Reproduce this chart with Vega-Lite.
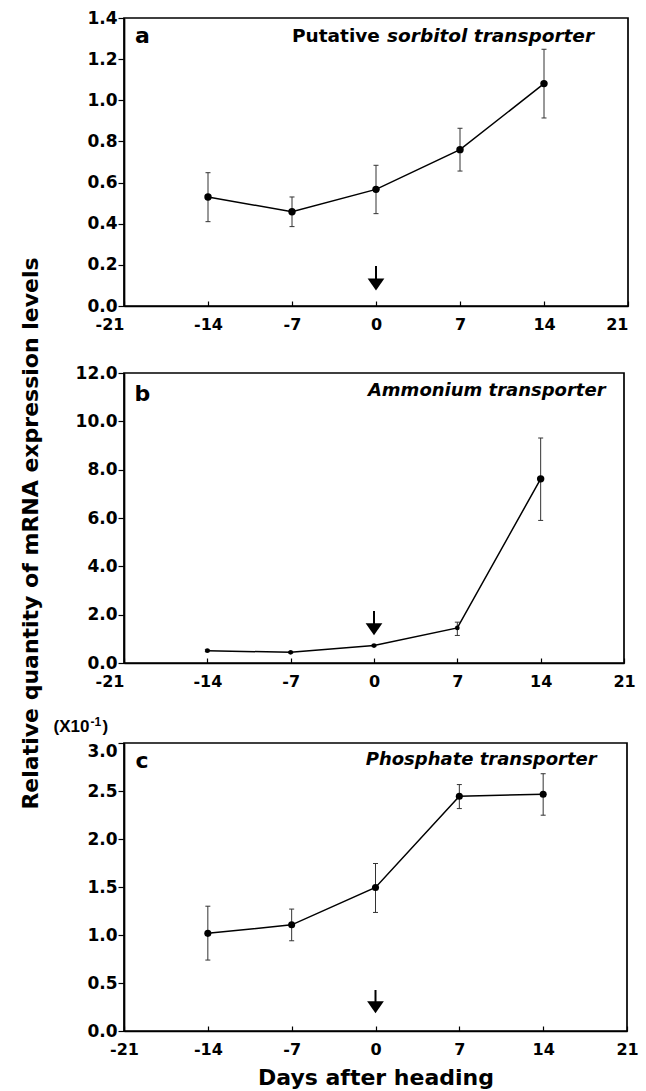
{
  "$schema": "https://vega.github.io/schema/vega-lite/v6.json",
  "padding": {"left": 18, "top": 8, "right": 5, "bottom": 5},
  "background": "white",
  "bounds": "flush",
  "spacing": 67,
  "datasets": {
    "a": [
      {"day": -14, "mean": 0.53, "lo": 0.41, "hi": 0.648},
      {"day": -7, "mean": 0.458, "lo": 0.386, "hi": 0.53},
      {"day": 0, "mean": 0.567, "lo": 0.449, "hi": 0.684},
      {"day": 7, "mean": 0.76, "lo": 0.656, "hi": 0.864},
      {"day": 14, "mean": 1.081, "lo": 0.914, "hi": 1.248}
    ],
    "b": [
      {"day": -14, "mean": 0.51, "lo": 0.47, "hi": 0.55},
      {"day": -7, "mean": 0.44, "lo": 0.41, "hi": 0.47},
      {"day": 0, "mean": 0.72, "lo": 0.68, "hi": 0.76},
      {"day": 7, "mean": 1.45, "lo": 1.14, "hi": 1.69},
      {"day": 14, "mean": 7.62, "lo": 5.9, "hi": 9.31}
    ],
    "c": [
      {"day": -14, "mean": 1.017, "lo": 0.739, "hi": 1.3},
      {"day": -7, "mean": 1.106, "lo": 0.94, "hi": 1.27},
      {"day": 0, "mean": 1.495, "lo": 1.235, "hi": 1.745},
      {"day": 7, "mean": 2.445, "lo": 2.317, "hi": 2.567},
      {"day": 14, "mean": 2.466, "lo": 2.248, "hi": 2.68}
    ],
    "arrA": [{"day": 0, "top": 0.194, "head": 0.105}],
    "arrB": [{"day": 0, "top": 2.15, "head": 1.4}],
    "arrC": [{"day": 0, "top": 0.427, "head": 0.248}]
  },
  "vconcat": [
    {
      "width": 504,
      "height": 288,
      "encoding": {
        "x": {
          "field": "day", "type": "quantitative",
          "scale": {"domain": [-21, 21], "nice": false, "zero": false},
          "axis": {
            "values": [-21, -14, -7, 0, 7, 14, 21], "title": null, "labelExpr": "'' + datum.value",
            "labelAlign": {"condition": {"test": "abs(datum.value) == 21", "value": "right"}, "value": "center"}
          }
        }
      },
      "layer": [
        {"data": {"name": "a"}, "mark": {"type": "rule", "stroke": "#333", "strokeWidth": 1},
         "encoding": {"y": {"field": "lo", "type": "quantitative", "scale": {"domain": [0, 1.4], "nice": false, "zero": false},
           "axis": {"values": [0, 0.2, 0.4, 0.6, 0.8, 1.0, 1.2, 1.4], "format": ".1f", "title": null}}, "y2": {"field": "hi"}}},
        {"data": {"name": "a"}, "mark": {"type": "tick", "orient": "horizontal", "size": 5, "thickness": 1, "color": "#333", "opacity": 1},
         "encoding": {"y": {"field": "lo", "type": "quantitative", "title": null}}},
        {"data": {"name": "a"}, "mark": {"type": "tick", "orient": "horizontal", "size": 5, "thickness": 1, "color": "#333", "opacity": 1},
         "encoding": {"y": {"field": "hi", "type": "quantitative", "title": null}}},
        {"data": {"name": "a"}, "mark": {"type": "line", "color": "black", "strokeWidth": 1.5},
         "encoding": {"y": {"field": "mean", "type": "quantitative", "title": null}}},
        {"data": {"name": "a"}, "mark": {"type": "point", "filled": true, "color": "black", "size": 55, "opacity": 1},
         "encoding": {"y": {"field": "mean", "type": "quantitative", "title": null}}},
        {"data": {"name": "arrA"}, "mark": {"type": "rule", "color": "black", "strokeWidth": 2},
         "encoding": {"y": {"field": "top", "type": "quantitative", "title": null}, "y2": {"field": "head"}}},
        {"data": {"name": "arrA"}, "mark": {"type": "point", "shape": "M-1,-0.72L1,-0.72L0,0.72Z", "filled": true, "color": "black", "size": 280, "opacity": 1},
         "encoding": {"y": {"field": "head", "type": "quantitative", "title": null}}},
        {"data": {"values": [{"day": -20.08, "v": 1.279, "t": "a"}]},
         "mark": {"type": "text", "align": "left", "baseline": "alphabetic", "font": "DejaVu Sans", "fontWeight": "bold", "fontSize": 22, "color": "black"},
         "encoding": {"y": {"field": "v", "type": "quantitative", "title": null}, "text": {"field": "t"}}},
        {"data": {"values": [{"day": -7.0, "v": 1.285, "t": "Putative"}]},
         "mark": {"type": "text", "align": "left", "baseline": "alphabetic", "font": "DejaVu Sans", "fontWeight": "bold", "fontSize": 18.5, "color": "black"},
         "encoding": {"y": {"field": "v", "type": "quantitative", "title": null}, "text": {"field": "t"}}},
        {"data": {"values": [{"day": 0.92, "v": 1.285, "t": "sorbitol transporter"}]},
         "mark": {"type": "text", "align": "left", "baseline": "alphabetic", "font": "DejaVu Sans", "fontWeight": "bold", "fontStyle": "italic", "fontSize": 18.5, "color": "black"},
         "encoding": {"y": {"field": "v", "type": "quantitative", "title": null}, "text": {"field": "t"}}}
      ]
    },
    {
      "bounds": "flush",
      "spacing": 80,
      "vconcat": [
        {
          "width": 500,
          "height": 290,
          "encoding": {
            "x": {
              "field": "day", "type": "quantitative",
              "scale": {"domain": [-21, 21], "nice": false, "zero": false},
              "axis": {
                "values": [-21, -14, -7, 0, 7, 14, 21], "title": null, "labelExpr": "'' + datum.value",
                "labelAlign": {"condition": {"test": "datum.value == -21", "value": "right"}, "value": "center"}
              }
            }
          },
          "layer": [
            {"data": {"name": "b"}, "mark": {"type": "rule", "stroke": "#333", "strokeWidth": 1},
             "encoding": {"y": {"field": "lo", "type": "quantitative", "scale": {"domain": [0, 12], "nice": false, "zero": false},
               "title": "Relative quantity of mRNA expression levels",
               "axis": {"values": [0, 2, 4, 6, 8, 10, 12], "format": ".1f",
                 "title": "Relative quantity of mRNA expression levels", "titleFontSize": 22, "titlePadding": 33, "titleY": 160}}, "y2": {"field": "hi"}}},
            {"data": {"name": "b"}, "mark": {"type": "tick", "orient": "horizontal", "size": 5, "thickness": 1, "color": "#333", "opacity": 1},
             "encoding": {"y": {"field": "lo", "type": "quantitative"}}},
            {"data": {"name": "b"}, "mark": {"type": "tick", "orient": "horizontal", "size": 5, "thickness": 1, "color": "#333", "opacity": 1},
             "encoding": {"y": {"field": "hi", "type": "quantitative"}}},
            {"data": {"name": "b"}, "mark": {"type": "line", "color": "black", "strokeWidth": 1.5},
             "encoding": {"y": {"field": "mean", "type": "quantitative"}}},
            {"data": {"name": "b"}, "mark": {"type": "point", "filled": true, "color": "black", "opacity": 1},
             "encoding": {"y": {"field": "mean", "type": "quantitative"},
               "size": {"condition": {"test": "datum.day == 14", "value": 55}, "value": 22}}},
            {"data": {"name": "arrB"}, "mark": {"type": "rule", "color": "black", "strokeWidth": 2},
             "encoding": {"y": {"field": "top", "type": "quantitative"}, "y2": {"field": "head"}}},
            {"data": {"name": "arrB"}, "mark": {"type": "point", "shape": "M-1,-0.72L1,-0.72L0,0.72Z", "filled": true, "color": "black", "size": 280, "opacity": 1},
             "encoding": {"y": {"field": "head", "type": "quantitative"}}},
            {"data": {"values": [{"day": -20.12, "v": 10.86, "t": "b"}]},
             "mark": {"type": "text", "align": "left", "baseline": "alphabetic", "font": "DejaVu Sans", "fontWeight": "bold", "fontSize": 22, "color": "black"},
             "encoding": {"y": {"field": "v", "type": "quantitative"}, "text": {"field": "t"}}},
            {"data": {"values": [{"day": 19.45, "v": 11.06, "t": "Ammonium transporter"}]},
             "mark": {"type": "text", "align": "right", "baseline": "alphabetic", "font": "DejaVu Sans", "fontWeight": "bold", "fontStyle": "italic", "fontSize": 18, "color": "black"},
             "encoding": {"y": {"field": "v", "type": "quantitative"}, "text": {"field": "t"}}}
          ]
        },
        {
          "width": 503,
          "height": 288,
          "encoding": {
            "x": {
              "field": "day", "type": "quantitative",
              "scale": {"domain": [-21, 21], "nice": false, "zero": false},
              "axis": {
                "values": [-21, -14, -7, 0, 7, 14, 21], "labelExpr": "'' + datum.value",
                "title": "Days after heading", "titleFontSize": 22, "titlePadding": 10
              }
            }
          },
          "layer": [
            {"data": {"name": "c"}, "mark": {"type": "rule", "stroke": "#333", "strokeWidth": 1},
             "encoding": {"y": {"field": "lo", "type": "quantitative", "scale": {"domain": [0, 3], "nice": false, "zero": false},
               "axis": {"values": [0, 0.5, 1.0, 1.5, 2.0, 2.5, 3.0], "format": ".1f", "title": null,
                 "labelBaseline": {"condition": {"test": "datum.value == 3", "value": "top"}, "value": "middle"}}}, "y2": {"field": "hi"}}},
            {"data": {"name": "c"}, "mark": {"type": "tick", "orient": "horizontal", "size": 5, "thickness": 1, "color": "#333", "opacity": 1},
             "encoding": {"y": {"field": "lo", "type": "quantitative", "title": null}}},
            {"data": {"name": "c"}, "mark": {"type": "tick", "orient": "horizontal", "size": 5, "thickness": 1, "color": "#333", "opacity": 1},
             "encoding": {"y": {"field": "hi", "type": "quantitative", "title": null}}},
            {"data": {"name": "c"}, "mark": {"type": "line", "color": "black", "strokeWidth": 1.5},
             "encoding": {"y": {"field": "mean", "type": "quantitative", "title": null}}},
            {"data": {"name": "c"}, "mark": {"type": "point", "filled": true, "color": "black", "size": 50, "opacity": 1},
             "encoding": {"y": {"field": "mean", "type": "quantitative", "title": null}}},
            {"data": {"name": "arrC"}, "mark": {"type": "rule", "color": "black", "strokeWidth": 2},
             "encoding": {"y": {"field": "top", "type": "quantitative", "title": null}, "y2": {"field": "head"}}},
            {"data": {"name": "arrC"}, "mark": {"type": "point", "shape": "M-1,-0.72L1,-0.72L0,0.72Z", "filled": true, "color": "black", "size": 280, "opacity": 1},
             "encoding": {"y": {"field": "head", "type": "quantitative", "title": null}}},
            {"data": {"values": [{"day": -20.04, "v": 2.744, "t": "c"}]},
             "mark": {"type": "text", "align": "left", "baseline": "alphabetic", "font": "DejaVu Sans", "fontWeight": "bold", "fontSize": 22, "color": "black"},
             "encoding": {"y": {"field": "v", "type": "quantitative", "title": null}, "text": {"field": "t"}}},
            {"data": {"values": [{"day": 18.47, "v": 2.768, "t": "Phosphate transporter"}]},
             "mark": {"type": "text", "align": "right", "baseline": "alphabetic", "font": "DejaVu Sans", "fontWeight": "bold", "fontStyle": "italic", "fontSize": 18, "color": "black"},
             "encoding": {"y": {"field": "v", "type": "quantitative", "title": null}, "text": {"field": "t"}}},
            {"data": {"values": [{"day": -26.88, "v": 3.115, "t": "(X10"}]},
             "mark": {"type": "text", "align": "left", "baseline": "alphabetic", "font": "Liberation Sans", "fontWeight": "bold", "fontSize": 17, "color": "black"},
             "encoding": {"y": {"field": "v", "type": "quantitative", "title": null}, "text": {"field": "t"}}},
            {"data": {"values": [{"day": -26.88, "v": 3.115, "t": "-1"}]},
             "mark": {"type": "text", "align": "left", "baseline": "alphabetic", "font": "Liberation Sans", "fontWeight": "bold", "fontSize": 12, "color": "black", "dx": 37, "dy": -6},
             "encoding": {"y": {"field": "v", "type": "quantitative", "title": null}, "text": {"field": "t"}}},
            {"data": {"values": [{"day": -26.88, "v": 3.115, "t": ")"}]},
             "mark": {"type": "text", "align": "left", "baseline": "alphabetic", "font": "Liberation Sans", "fontWeight": "bold", "fontSize": 17, "color": "black", "dx": 49},
             "encoding": {"y": {"field": "v", "type": "quantitative", "title": null}, "text": {"field": "t"}}}
          ]
        }
      ]
    }
  ],
  "config": {
    "view": {"stroke": "black", "strokeWidth": 1.7},
    "axis": {
      "domainColor": "black", "domainWidth": 1.7, "tickColor": "black", "tickWidth": 1.2,
      "labelFont": "DejaVu Sans", "labelFontWeight": "bold", "labelColor": "black",
      "titleFont": "DejaVu Sans", "titleFontWeight": "bold", "titleColor": "black", "grid": false
    },
    "axisX": {"tickSize": -5, "labelFontSize": 16, "labelPadding": 15, "labelFlush": false},
    "axisY": {"tickSize": 6, "labelFontSize": 17, "labelPadding": 1}
  }
}
